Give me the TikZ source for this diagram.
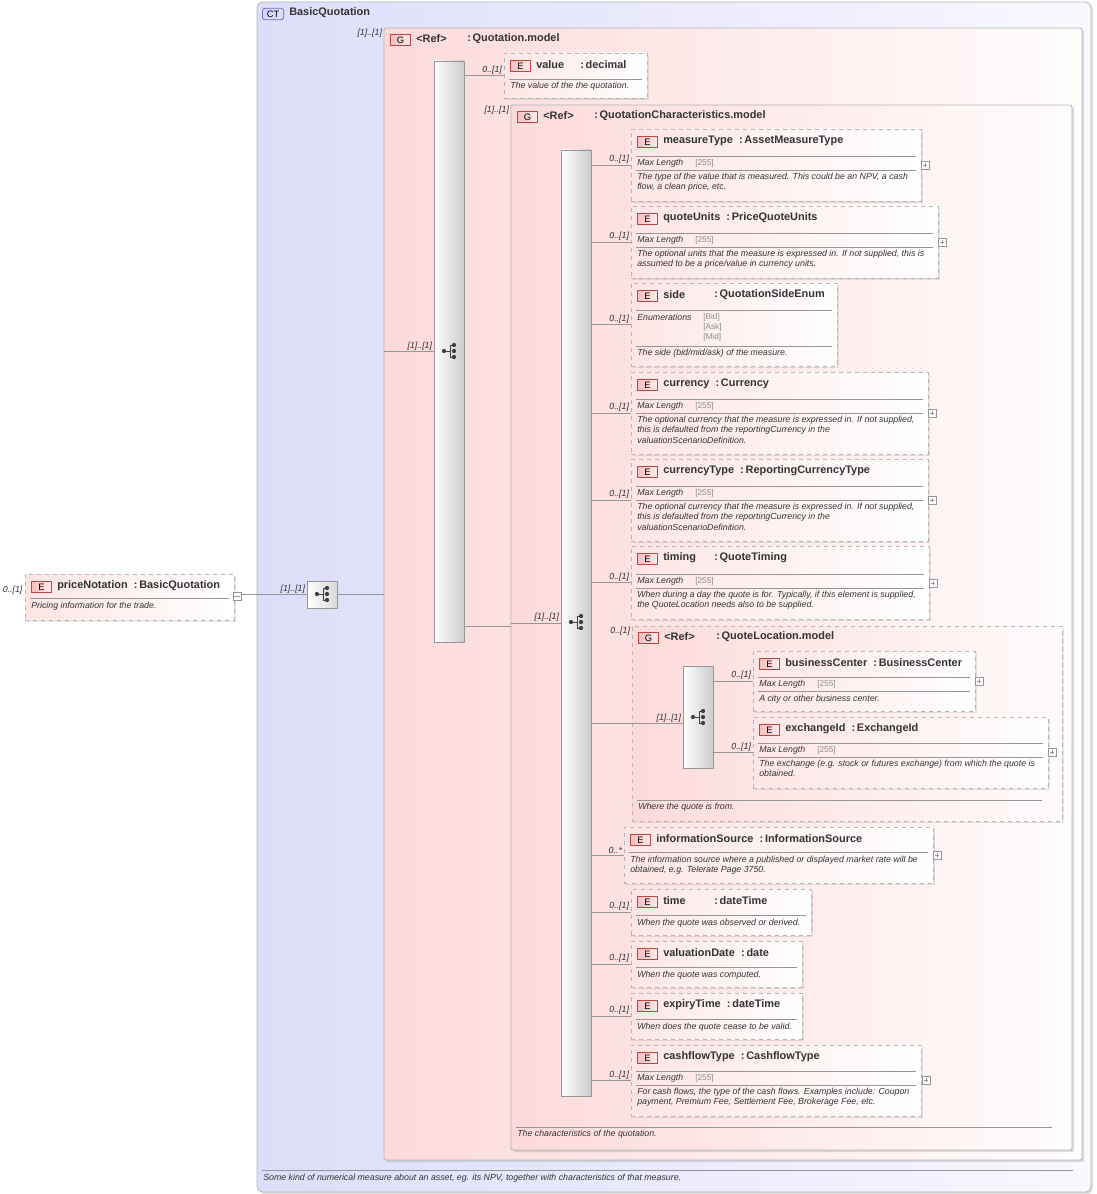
\documentclass[tikz,border=0pt]{standalone}
\usepackage{fontspec}
\setmainfont{Liberation Sans}
\usetikzlibrary{positioning,fit,shadows,backgrounds}

\definecolor{ctfill}{RGB}{221,221,250}
\definecolor{ctline}{RGB}{110,110,190}
\definecolor{grpfill}{RGB}{253,218,218}
\definecolor{badgeline}{RGB}{190,70,70}
\definecolor{badgefill}{RGB}{248,190,190}
\definecolor{boxline}{RGB}{180,180,180}
\definecolor{conn}{RGB}{150,150,150}
\definecolor{facetgray}{RGB}{140,140,140}

\tikzset{
  conn/.style={draw=conn, line width=0.5pt},
  ebox/.style={draw=boxline, dashed, line width=0.6pt, inner sep=0pt,
    left color=grpfill!70, right color=white,
    drop shadow={opacity=0.2, shadow xshift=1.2pt, shadow yshift=-1.2pt}},
  gbox/.style={draw=boxline, line width=0.6pt, inner sep=0pt, rounded corners=1.5pt,
    left color=grpfill, right color=white!94!grpfill,
    drop shadow={opacity=0.25, shadow xshift=1.5pt, shadow yshift=-1.5pt}},
  qlbox/.style={draw=boxline, dashed, line width=0.6pt, inner sep=0pt,
    left color=grpfill, right color=white!90!grpfill,
    drop shadow={opacity=0.2, shadow xshift=1.2pt, shadow yshift=-1.2pt}},
  ctbox/.style={draw=boxline, line width=0.6pt, inner sep=0pt, rounded corners=4pt,
    left color=ctfill, right color=white!80!ctfill,
    drop shadow={opacity=0.25, shadow xshift=1.5pt, shadow yshift=-1.5pt}},
  seqbar/.style={draw=conn, inner sep=0pt, left color=white, right color=black!20},
  badge/.style={draw=badgeline, line width=0.6pt, left color=badgefill, right color=white!70!badgefill,
    minimum width=15pt, minimum height=8.5pt, inner sep=0pt, font=\fontsize{7}{8}\selectfont},
  ename/.style={inner sep=0pt, font=\fontsize{8.2}{9.5}\selectfont\bfseries, text=black!80},
  desc/.style={inner sep=0pt, align=left, font=\fontsize{6.6}{7.7}\selectfont\itshape, text=black!80},
  facet/.style={inner sep=0pt, align=left, font=\fontsize{6.2}{7.6}\selectfont, text=facetgray},
  mult/.style={inner sep=1pt, font=\fontsize{6.6}{7.6}\selectfont\itshape, text=black!80},
  sepline/.style={draw=conn, line width=0.5pt},
  pm/.style={draw=conn, fill=white, minimum size=6pt, inner sep=0pt, line width=0.4pt},
}

% element header: x1 y1 name type
\newcommand\ehead[4]{%
  \node[badge, anchor=west] at (#1+6,#2+13) {E};
  \node[ename, anchor=west] at (#1+32,#2+12) {#3\ \ :\,#4};}
% element header with tabbed type: x1 y1 name colon-x type
\newcommand\eheadt[5]{%
  \node[badge, anchor=west] at (#1+6,#2+13) {E};
  \node[ename, anchor=west] at (#1+32,#2+12) {#3};
  \node[ename, anchor=west] at (#4,#2+12) {:\,#5};}
% group header: x1 y1 colon-x type
\newcommand\ghead[4]{%
  \node[badge, anchor=west] at (#1+6,#2+12) {G};
  \node[ename, anchor=west] at (#1+32,#2+11) {<Ref>};
  \node[ename, anchor=west] at (#3,#2+11) {:\,#4};}
\newcommand\hsep[3]{\draw[sepline] (#1+5,#3) -- (#2-5,#3);}
\newcommand\maxlen[2]{%
  \node[desc, anchor=west] at (#1+6,#2) {Max Length};
  \node[facet, anchor=west] at (#1+64,#2) {[255]};}
\newcommand\plusbox[2]{%
  \node[pm] at (#1,#2) {};
  \draw[conn] (#1-2,#2) -- (#1+2,#2) (#1,#2-2) -- (#1,#2+2);}
\newcommand\seqicon[2]{%
  \draw[black!75, line width=0.6pt] (#1-5,#2) -- (#1+1,#2) (#1+1,#2-6) -- (#1+1,#2+6)
    (#1+1,#2-6) -- (#1+5,#2-6) (#1+1,#2+6) -- (#1+5,#2+6);
  \fill[black!75] (#1-5,#2) circle (1.6pt) (#1+5,#2-6) circle (1.6pt)
    (#1+5,#2) circle (1.6pt) (#1+5,#2+6) circle (1.6pt);}
% connector from sequence bar to a box, with its multiplicity
\newcommand\link[3]{%
  \draw[conn] (#1.east |- #2.west) -- (#2.west)
    node[mult, anchor=south east, pos=1] (m-#2) {#3};}

\begin{document}
\begin{tikzpicture}[x=0.75pt, y=-0.75pt]
  \useasboundingbox (0,0) rectangle (1096,1194);

  % complex type
  \node[ctbox, fit={(257,2) (1091,1192)}] (ct) {};
  \node[badge, draw=ctline, left color=ctfill!70!blue!40, right color=ctfill, rounded corners=2pt,
    minimum width=16pt, anchor=west] (ctb) at (262,14) {CT};
  \node[ename, anchor=west] (ctn) at (289,13) {BasicQuotation};
  \draw[sepline] (262,1170) -- (1073,1170);
  \node[desc, anchor=west] (ctd) at (263,1178) {Some kind of numerical measure about an asset, eg. its NPV, together with characteristics of that measure.};

  % root element
  \node[ebox, fit={(25,574) (234,620)}] (pn) {};
  \ehead{25}{574}{priceNotation}{BasicQuotation}
  \hsep{25}{234}{598}
  \node[desc, anchor=west] (pnd) at (31,606) {Pricing information for the trade.};
  \node[mult, anchor=east] (pnm) at (24,590) {0..[1]};
  \node[seqbar, right color=black!15, fit={(307,581) (337,608)}] (seq0) {};
  \seqicon{322}{594}
  \draw[conn] (pn.east |- seq0.west) -- (seq0.west) node[mult, anchor=south east, pos=1] (m0) {[1]..[1]};
  \node[pm] (pnx) at (237,596) {};
  \draw[conn] (234,596) -- (240,596);

  % Quotation.model
  \node[gbox, fit={(384,28) (1082,1160)}] (qm) {};
  \ghead{384}{28}{467}{Quotation.model}
  \node[mult, anchor=north east] (qmm) at (qm.north west) {[1]..[1]};
  \draw[conn] (seq0.east) -- (seq0.east -| qm.west);
  \node[seqbar, fit={(434,61) (464,642)}] (seq1) {};
  \seqicon{449}{351}
  \draw[conn] (seq1.west -| qm.west) -- (seq1.west) node[mult, anchor=south east, pos=1] (m1) {[1]..[1]};

  \node[ebox, fit={(504,53) (647,98)}] (val) {};
  \eheadt{504}{53}{value}{580}{decimal}
  \hsep{504}{647}{79}
  \node[desc, anchor=west] (vald) at (510,86) {The value of the the quotation.};
  \link{seq1}{val}{0..[1]}

  % QuotationCharacteristics.model
  \node[gbox, fit={(511,105) (1072,1150)}] (qc) {};
  \ghead{511}{105}{594}{QuotationCharacteristics.model}
  \node[mult, anchor=north east] (qcm) at (qc.north west) {[1]..[1]};
  \coordinate (qcin) at (511,626);
  \draw[conn] (seq1.east |- qcin) -- (qcin);
  \draw[sepline] (516,1127) -- (1052,1127);
  \node[desc, anchor=west] (qcd) at (517,1134) {The characteristics of the quotation.};
  \node[seqbar, fit={(561,150) (591,1096)}] (seq2) {};
  \seqicon{576}{622}
  \draw[conn] (seq2.west -| qc.west) -- (seq2.west) node[mult, anchor=south east, pos=1] (m2) {[1]..[1]};

  \node[ebox, fit={(631,129) (921,201)}] (mt) {};
  \ehead{631}{129}{measureType}{AssetMeasureType}
  \hsep{631}{921}{156} \maxlen{631}{163} \hsep{631}{921}{170}
  \node[desc, anchor=north west] (mtd) at (637,173) {The type of the value that is measured. This could be an NPV, a cash\\flow, a clean price, etc.};
  \plusbox{925}{165}
  \link{seq2}{mt}{0..[1]}

  \node[ebox, fit={(631,206) (938,278)}] (qu) {};
  \ehead{631}{206}{quoteUnits}{PriceQuoteUnits}
  \hsep{631}{938}{233} \maxlen{631}{240} \hsep{631}{938}{247}
  \node[desc, anchor=north west] (qud) at (637,250) {The optional units that the measure is expressed in. If not supplied, this is\\assumed to be a price/value in currency units.};
  \plusbox{942}{242}
  \link{seq2}{qu}{0..[1]}

  \node[ebox, fit={(631,283) (837,366)}] (sd) {};
  \eheadt{631}{283}{side}{714}{QuotationSideEnum}
  \hsep{631}{837}{310}
  \node[desc, anchor=west] (sde) at (637,317) {Enumerations};
  \node[facet, anchor=north west] (sdv) at (703,313) {{[Bid]}\\{[Ask]}\\{[Mid]}};
  \hsep{631}{837}{346}
  \node[desc, anchor=west] (sdd) at (637,353) {The side (bid/mid/ask) of the measure.};
  \link{seq2}{sd}{0..[1]}

  \node[ebox, fit={(631,372) (928,454)}] (cu) {};
  \ehead{631}{372}{currency}{Currency}
  \hsep{631}{928}{399} \maxlen{631}{406} \hsep{631}{928}{413}
  \node[desc, anchor=north west] (cud) at (637,416) {The optional currency that the measure is expressed in. If not supplied,\\this is defaulted from the reportingCurrency in the\\valuationScenarioDefinition.};
  \plusbox{932}{413}
  \link{seq2}{cu}{0..[1]}

  \node[ebox, fit={(631,459) (928,541)}] (ctp) {};
  \ehead{631}{459}{currencyType}{ReportingCurrencyType}
  \hsep{631}{928}{486} \maxlen{631}{493} \hsep{631}{928}{500}
  \node[desc, anchor=north west] (ctpd) at (637,503) {The optional currency that the measure is expressed in. If not supplied,\\this is defaulted from the reportingCurrency in the\\valuationScenarioDefinition.};
  \plusbox{932}{500}
  \link{seq2}{ctp}{0..[1]}

  \node[ebox, fit={(631,546) (929,619)}] (tm) {};
  \eheadt{631}{546}{timing}{714}{QuoteTiming}
  \hsep{631}{929}{574} \maxlen{631}{581} \hsep{631}{929}{588}
  \node[desc, anchor=north west] (tmd) at (637,591) {When during a day the quote is for. Typically, if this element is supplied,\\the QuoteLocation needs also to be supplied.};
  \plusbox{933}{583}
  \link{seq2}{tm}{0..[1]}

  % QuoteLocation.model
  \node[qlbox, fit={(632,626) (1062,821)}] (ql) {};
  \ghead{632}{626}{716}{QuoteLocation.model}
  \node[mult, anchor=north east] (qlm) at (ql.north west) {0..[1]};
  \draw[conn] (seq2.east |- ql.west) -- (ql.west);
  \draw[sepline] (637,800) -- (1042,800);
  \node[desc, anchor=west] (qld) at (638,807) {Where the quote is from.};
  \node[seqbar, fit={(683,666) (713,768)}] (seq3) {};
  \seqicon{698}{717}
  \draw[conn] (ql.west) -- (ql.west -| seq3.west) node[mult, anchor=south east, pos=1] (m3) {[1]..[1]};

  \node[ebox, fit={(753,651) (975,711)}] (bc) {};
  \ehead{753}{651}{businessCenter}{BusinessCenter}
  \hsep{753}{975}{677} \maxlen{753}{684} \hsep{753}{975}{691}
  \node[desc, anchor=west] (bcd) at (759,699) {A city or other business center.};
  \plusbox{979}{681}
  \link{seq3}{bc}{0..[1]}

  \node[ebox, fit={(753,717) (1048,788)}] (ex) {};
  \ehead{753}{717}{exchangeId}{ExchangeId}
  \hsep{753}{1048}{743} \maxlen{753}{750} \hsep{753}{1048}{757}
  \node[desc, anchor=north west] (exd) at (759,760) {The exchange (e.g. stock or futures exchange) from which the quote is\\obtained.};
  \plusbox{1052}{752}
  \link{seq3}{ex}{0..[1]}

  \node[ebox, fit={(624,827) (933,883)}] (is) {};
  \ehead{624}{827}{informationSource}{InformationSource}
  \hsep{624}{933}{852}
  \node[desc, anchor=north west] (isd) at (630,856) {The information source where a published or displayed market rate will be\\obtained, e.g. Telerate Page 3750.};
  \plusbox{937}{855}
  \link{seq2}{is}{0..*}

  \node[ebox, fit={(631,889) (811,935)}] (ti) {};
  \eheadt{631}{889}{time}{714}{dateTime}
  \hsep{631}{811}{915}
  \node[desc, anchor=west] (tid) at (637,923) {When the quote was observed or derived.};
  \link{seq2}{ti}{0..[1]}

  \node[ebox, fit={(631,941) (802,987)}] (vd) {};
  \ehead{631}{941}{valuationDate}{date}
  \hsep{631}{802}{967}
  \node[desc, anchor=west] (vdd) at (637,975) {When the quote was computed.};
  \link{seq2}{vd}{0..[1]}

  \node[ebox, fit={(631,993) (802,1039)}] (et) {};
  \ehead{631}{993}{expiryTime}{dateTime}
  \hsep{631}{802}{1019}
  \node[desc, anchor=west] (etd) at (637,1027) {When does the quote cease to be valid.};
  \link{seq2}{et}{0..[1]}

  \node[ebox, fit={(631,1045) (921,1116)}] (cf) {};
  \ehead{631}{1045}{cashflowType}{CashflowType}
  \hsep{631}{921}{1071} \maxlen{631}{1078} \hsep{631}{921}{1085}
  \node[desc, anchor=north west] (cfd) at (637,1088) {For cash flows, the type of the cash flows. Examples include: Coupon\\payment, Premium Fee, Settlement Fee, Brokerage Fee, etc.};
  \plusbox{926}{1080}
  \link{seq2}{cf}{0..[1]}

\end{tikzpicture}
\end{document}
